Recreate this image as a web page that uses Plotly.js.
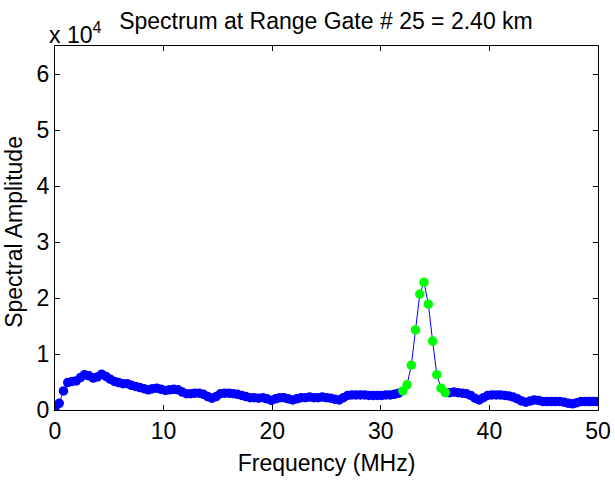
<!DOCTYPE html>
<html>
<head>
<meta charset="utf-8">
<script src="https://cdn.plot.ly/plotly-3.0.1.min.js"></script>
<style>html,body{margin:0;padding:0;background:#fff;}#chart{width:615px;height:483px;}</style>
</head>
<body>
<div id="chart"></div>
<script>
// Frequency bins (MHz)
var freq = [0, 0.39, 0.78, 1.17, 1.56, 1.95, 2.34, 2.73, 3.13, 3.52,
  3.91, 4.30, 4.69, 5.08, 5.47, 5.86, 6.25, 6.64, 7.03, 7.42,
  7.81, 8.20, 8.59, 8.98, 9.38, 9.77, 10.16, 10.55, 10.94, 11.33,
  11.72, 12.11, 12.50, 12.89, 13.28, 13.67, 14.06, 14.45, 14.84, 15.23,
  15.63, 16.02, 16.41, 16.80, 17.19, 17.58, 17.97, 18.36, 18.75, 19.14,
  19.53, 19.92, 20.31, 20.70, 21.09, 21.48, 21.88, 22.27, 22.66, 23.05,
  23.44, 23.83, 24.22, 24.61, 25.00, 25.39, 25.78, 26.17, 26.56, 26.95,
  27.34, 27.73, 28.13, 28.52, 28.91, 29.30, 29.69, 30.08, 30.47, 30.86,
  31.25, 31.64, 32.03, 32.42, 32.81, 33.20, 33.59, 33.98, 34.38, 34.77,
  35.16, 35.55, 35.94, 36.33, 36.72, 37.11, 37.50, 37.89, 38.28, 38.67,
  39.06, 39.45, 39.84, 40.23, 40.63, 41.02, 41.41, 41.80, 42.19, 42.58,
  42.97, 43.36, 43.75, 44.14, 44.53, 44.92, 45.31, 45.70, 46.09, 46.48,
  46.88, 47.27, 47.66, 48.05, 48.44, 48.83, 49.22, 49.61, 50.00];

// Spectral amplitude
var amp = [0, 1200, 3400, 4900, 5100, 5200, 5800, 6300, 6100, 5700,
  5900, 6400, 6000, 5500, 5100, 4900, 4700, 4700, 4400, 4200,
  4000, 3800, 3600, 3800, 3900, 3700, 3500, 3600, 3700, 3600,
  3200, 2900, 2900, 3000, 3000, 2800, 2400, 2100, 2400, 2900,
  3000, 3000, 2900, 2800, 2600, 2400, 2200, 2200, 2100, 2200,
  2000, 1700, 2000, 2200, 2200, 2000, 1800, 2000, 2200, 2200,
  2300, 2200, 2200, 2300, 2200, 2100, 1900, 1800, 2200, 2600,
  2700, 2700, 2700, 2700, 2600, 2600, 2600, 2600, 2700, 2700,
  2800, 3000, 3400, 4500, 8000, 14300, 20700, 22800, 18900, 12300,
  6300, 3900, 3100, 3100, 3200, 3100, 3000, 2900, 2600, 2100,
  1800, 2200, 2600, 2700, 2700, 2700, 2600, 2500, 2300, 2000,
  1600, 1400, 1600, 1800, 1700, 1500, 1500, 1500, 1500, 1500,
  1400, 1200, 1100, 1300, 1500, 1500, 1500, 1500, 1500];

// Indices of the detected signal peak (highlighted in green)
var peakStart = 82, peakEnd = 92;

var yTickVals = [0, 10000, 20000, 30000, 40000, 50000, 60000];
var yTickText = ['0', '1', '2', '3', '4', '5', '6'];
var xTickVals = [0, 10, 20, 30, 40, 50];

var bx = [], by = [], gx = [], gy = [];
for (var i = 0; i < freq.length; i++) {
  if (i >= peakStart && i <= peakEnd) { gx.push(freq[i]); gy.push(amp[i]); }
  else { bx.push(freq[i]); by.push(amp[i]); }
}

var font = 'Liberation Sans, Arial, Helvetica, sans-serif';
var fs = 23;

var data = [
  {x: freq, y: amp, mode: 'lines', line: {color: '#0000ff', width: 1}, hoverinfo: 'skip'},
  {x: bx, y: by, mode: 'markers', marker: {color: '#0000ff', size: 9.5, line: {width: 0}}},
  {x: gx, y: gy, mode: 'markers', marker: {color: '#00ff00', size: 9.5, line: {width: 0}}}
];

var layout = {
  width: 615, height: 483,
  margin: {l: 55, r: 17, t: 46, b: 73},
  paper_bgcolor: '#ffffff', plot_bgcolor: '#ffffff',
  showlegend: false,
  font: {family: font, size: fs, color: '#000'},
  title: {text: 'Spectrum at Range Gate # 25 = 2.40 km', font: {family: font, size: fs, color: '#000'},
          x: 0.53, xanchor: 'center', y: 0.957, yanchor: 'middle'},
  xaxis: {
    range: [0, 50], tickvals: xTickVals, ticktext: xTickVals.map(String),
    ticks: 'inside', ticklen: 5, tickwidth: 1, tickcolor: '#000',
    showline: true, linecolor: '#000', linewidth: 1, mirror: 'ticks',
    showgrid: false, zeroline: false,
    tickfont: {family: font, size: fs, color: '#000'},
    title: {text: 'Frequency (MHz)', font: {family: font, size: fs, color: '#000'}, standoff: 12}
  },
  yaxis: {
    range: [0, 65000], tickvals: yTickVals, ticktext: yTickText,
    ticks: 'inside', ticklen: 5, tickwidth: 1, tickcolor: '#000',
    showline: true, linecolor: '#000', linewidth: 1, mirror: 'ticks',
    showgrid: false, zeroline: false,
    tickfont: {family: font, size: fs, color: '#000'}
  },
  annotations: [{
    text: 'x 10<sup>4</sup>', xref: 'paper', yref: 'paper', x: -0.015, y: 1.035,
    xanchor: 'left', yanchor: 'middle', showarrow: false,
    font: {family: font, size: fs, color: '#000'}
  }, {
    text: 'Spectral Amplitude', xref: 'paper', yref: 'paper', x: -0.077, y: 0.49,
    xanchor: 'center', yanchor: 'middle', textangle: -90, showarrow: false,
    font: {family: font, size: fs, color: '#000'}
  }]
};

Plotly.newPlot('chart', data, layout, {displayModeBar: false, staticPlot: true});
</script>
</body>
</html>
